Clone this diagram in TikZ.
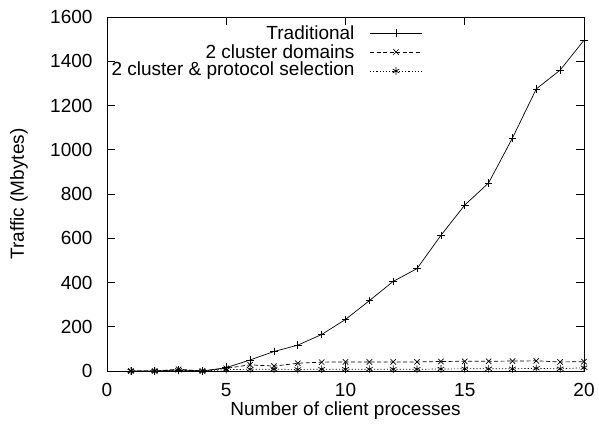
\documentclass[tikz,border=0pt]{standalone}
\usepackage{fontspec}
\setmainfont{Liberation Sans}
\usetikzlibrary{plotmarks}

\begin{document}
\begin{tikzpicture}[
  x=1pt,y=1pt,
  every node/.style={font=\fontsize{19}{22}\selectfont},
  frame/.style={line width=0.8pt},
  curve/.style={line width=0.7pt,mark size=3.8pt,mark options={solid,line width=0.7pt}},
  trad/.style={curve,mark=+},
  cluster/.style={curve,mark=x,dash pattern=on 4pt off 2.5pt},
  protsel/.style={curve,mark=asterisk,dash pattern=on 1.2pt off 2pt}
]
\useasboundingbox (0,0) rectangle (599,429);
\begin{scope}[shift={(107,58)},x=23.85pt,y=0.22125pt]
% frame and ticks
\draw[frame] (0,0) rectangle (20,1600);
\foreach \t in {0,200,...,1600}{
  \draw[frame] (0,\t) -- ++(8pt,0);
  \draw[frame] (20,\t) -- ++(-8pt,0);
  \node[anchor=east,xshift=-11pt] (ytick\t) at (0,\t) {\t};
}
\foreach \t in {0,5,...,20}{
  \draw[frame] (\t,0) -- ++(0,8pt);
  \draw[frame] (\t,1600) -- ++(0,-8pt);
  \node[yshift=-19pt] (xtick\t) at (\t,0) {\t};
}
\node[yshift=-40pt] (xlabel) at (10,0) {Number of client processes};
\node[rotate=90] (ylabel) at ([xshift=-88pt]0,800) {Traffic (Mbytes)};
% data
\draw[trad] plot coordinates {(1,0) (2,0) (3,5) (4,0) (5,15) (6,50) (7,88) (8,117)
  (9,165) (10,233) (11,318) (12,405) (13,463) (14,613) (15,750) (16,850)
  (17,1053) (18,1275) (19,1360) (20,1495)};
\draw[cluster] plot coordinates {(1,0) (2,0) (3,8) (4,0) (5,12) (6,28) (7,22) (8,35)
  (9,40) (10,41) (11,41) (12,41) (13,41) (14,43) (15,44) (16,44) (17,45)
  (18,46) (19,41) (20,42)};
\draw[protsel] plot coordinates {(1,0) (2,0) (3,3) (4,0) (5,6) (6,8) (7,8) (8,7)
  (9,8) (10,8) (11,8) (12,8) (13,8) (14,9) (15,10) (16,10) (17,10) (18,12)
  (19,10) (20,15)};
\end{scope}
% legend
\node[anchor=east] (legtrad) at (358,396) {Traditional};
\node[anchor=east] (legclus) at (358,377) {2 cluster domains};
\node[anchor=east] (legprot) at (358,358) {2 cluster \& protocol selection};
\draw[trad,mark=none] ([xshift=12pt]legtrad.east) -- ([xshift=64pt]legtrad.east);
\draw[trad] plot coordinates {([xshift=38pt]legtrad.east)};
\draw[cluster,mark=none] ([xshift=12pt]legclus.east) -- ([xshift=64pt]legclus.east);
\draw[cluster] plot coordinates {([xshift=38pt]legclus.east)};
\draw[protsel,mark=none] ([xshift=12pt]legprot.east) -- ([xshift=64pt]legprot.east);
\draw[protsel] plot coordinates {([xshift=38pt]legprot.east)};
\end{tikzpicture}
\end{document}
